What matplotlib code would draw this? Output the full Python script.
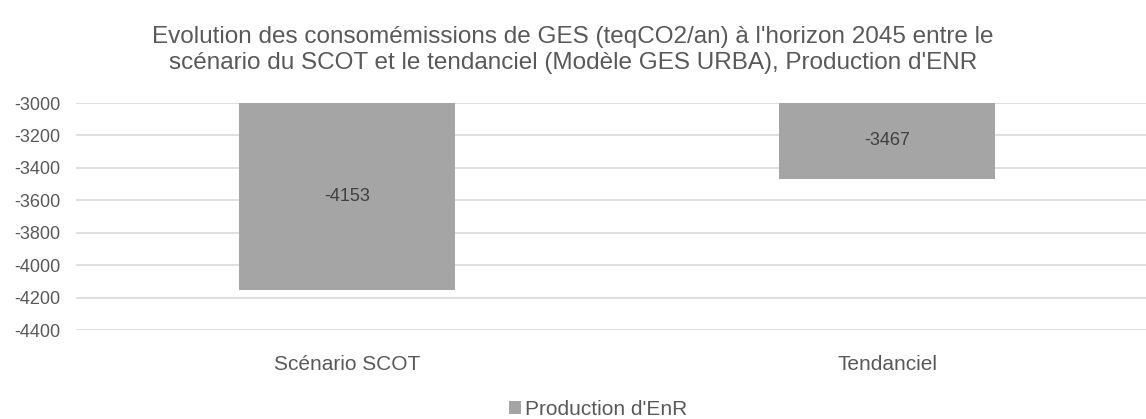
import matplotlib
matplotlib.use("Agg")
import matplotlib.pyplot as plt
import numpy as np

categories = ["Scénario SCOT", "Tendanciel"]
values = [-4153, -3467]
series_name = "Production d'EnR"
title = ("Evolution des consomémissions de GES (teqCO2/an) à l'horizon 2045 entre le\n"
         "scénario du SCOT et le tendanciel (Modèle GES URBA), Production d'ENR")
yticks = [-3000, -3200, -3400, -3600, -3800, -4000, -4200, -4400]

base = -3000
font = ["Liberation Sans", "DejaVu Sans"]
plt.rcParams['font.family'] = font

fig = plt.figure(figsize=(11.46, 4.19), dpi=100)
ax = fig.add_axes([76/1146, 1-330/419, 1-76/1146, (330-103)/419])

x = np.arange(len(categories))
vals = np.array(values, dtype=float)
bars = ax.bar(x, vals - base, bottom=base, width=0.4, color="#A5A5A5", zorder=2)
for xi, v in zip(x, vals):
    ax.text(xi, (v + base) / 2, f"{int(v)}", ha="center", va="center",
            fontsize=13, color="#404040", zorder=3)

ax.set_ylim(-4400, -3000)
ax.set_xlim((76-347)/540, (1146-347)/540)
ax.set_yticks(yticks)
ax.set_yticklabels([str(t) for t in yticks])
ax.set_xticks(x)
ax.set_xticklabels(categories)
ax.grid(axis="y", color="#D9D9D9", linewidth=1.2, zorder=0)
ax.set_axisbelow(True)
for s in ax.spines.values():
    s.set_visible(False)
ax.tick_params(axis="y", length=0, pad=11.5, labelsize=13, labelcolor="#595959")
ax.tick_params(axis="x", length=0, pad=18, labelsize=15, labelcolor="#595959")

fig.text(573/1146, 1-50/419, title, ha="center", va="center", fontsize=17.5,
         color="#595959", linespacing=1.25)

leg = fig.legend([bars], [series_name], loc="center", bbox_to_anchor=(598/1146, 1-409/419),
                 frameon=False, fontsize=15, handlelength=0.6, handleheight=0.6,
                 handletextpad=0.2, labelcolor="#595959", borderpad=0, borderaxespad=0)

fig.savefig("out.png", dpi=100, facecolor="white")
